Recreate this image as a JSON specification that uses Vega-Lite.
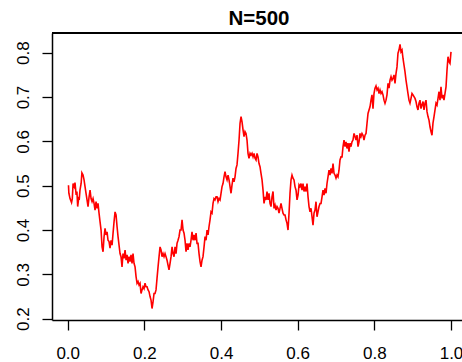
{
"$schema":"https://vega.github.io/schema/vega-lite/v6.json",
"width":410,"height":287,
"autosize":{"type":"none"},
"padding":{"left":52,"top":33,"right":0,"bottom":42},
"background":"white",
"config":{"view":{"stroke":null}},
"title":{"text":"N=500","font":"Liberation Sans","fontSize":20.5,"fontWeight":"bold","color":"black","anchor":"middle","frame":"group","baseline":"alphabetic","offset":9,"dx":2,"dy":22},
"data":{"values":[
{"x":0.002,"y":0.501},{"x":0.003,"y":0.483},{"x":0.006,"y":0.471},{"x":0.010,"y":0.462},{"x":0.012,"y":0.471},{"x":0.014,"y":0.505},{"x":0.017,"y":0.498},{"x":0.019,"y":0.507},{"x":0.022,"y":0.479},{"x":0.024,"y":0.487},{"x":0.026,"y":0.453},{"x":0.029,"y":0.475},{"x":0.030,"y":0.468},{"x":0.032,"y":0.490},{"x":0.035,"y":0.505},{"x":0.037,"y":0.529},
{"x":0.0400,"y":0.524},{"x":0.0426,"y":0.513},{"x":0.0452,"y":0.498},{"x":0.0478,"y":0.483},{"x":0.0504,"y":0.468},{"x":0.0530,"y":0.453},{"x":0.0557,"y":0.475},{"x":0.0583,"y":0.490},{"x":0.0609,"y":0.471},{"x":0.0635,"y":0.464},
{"x":0.0661,"y":0.471},{"x":0.0687,"y":0.460},{"x":0.0713,"y":0.445},{"x":0.0739,"y":0.464},{"x":0.0765,"y":0.449},{"x":0.0791,"y":0.460},{"x":0.0817,"y":0.438},{"x":0.0843,"y":0.419},{"x":0.0870,"y":0.400},{"x":0.0896,"y":0.362},
{"x":0.0922,"y":0.351},{"x":0.0948,"y":0.385},{"x":0.0974,"y":0.404},{"x":0.1000,"y":0.389},{"x":0.1026,"y":0.396},{"x":0.1052,"y":0.377},{"x":0.1078,"y":0.374},{"x":0.1104,"y":0.359},{"x":0.1130,"y":0.377},{"x":0.1157,"y":0.366},
{"x":0.1183,"y":0.393},{"x":0.1209,"y":0.419},{"x":0.1235,"y":0.441},{"x":0.1261,"y":0.434},{"x":0.1287,"y":0.408},{"x":0.1313,"y":0.385},{"x":0.1339,"y":0.366},{"x":0.1365,"y":0.347},{"x":0.1391,"y":0.340},{"x":0.1417,"y":0.317},
{"x":0.1443,"y":0.347},{"x":0.1470,"y":0.336},{"x":0.1496,"y":0.355},{"x":0.1522,"y":0.332},{"x":0.1548,"y":0.344},{"x":0.1574,"y":0.325},{"x":0.1600,"y":0.340},{"x":0.1626,"y":0.329},{"x":0.1652,"y":0.344},{"x":0.1678,"y":0.325},
{"x":0.1704,"y":0.347},{"x":0.1730,"y":0.325},{"x":0.1757,"y":0.317},{"x":0.1783,"y":0.295},{"x":0.1809,"y":0.280},{"x":0.1835,"y":0.284},{"x":0.1861,"y":0.276},{"x":0.1887,"y":0.280},{"x":0.1913,"y":0.257},{"x":0.1939,"y":0.265},
{"x":0.1965,"y":0.272},{"x":0.1991,"y":0.268},{"x":0.2017,"y":0.280},{"x":0.2043,"y":0.272},{"x":0.2070,"y":0.272},{"x":0.2096,"y":0.265},{"x":0.2122,"y":0.261},{"x":0.2148,"y":0.250},{"x":0.2174,"y":0.242},{"x":0.2200,"y":0.223},
{"x":0.2226,"y":0.238},{"x":0.2252,"y":0.257},{"x":0.2278,"y":0.257},{"x":0.2304,"y":0.265},{"x":0.2330,"y":0.291},{"x":0.2357,"y":0.317},{"x":0.2383,"y":0.340},{"x":0.2409,"y":0.362},{"x":0.2435,"y":0.355},{"x":0.2461,"y":0.340},
{"x":0.2487,"y":0.347},{"x":0.2513,"y":0.340},{"x":0.2539,"y":0.347},{"x":0.2565,"y":0.340},{"x":0.2591,"y":0.332},{"x":0.2617,"y":0.321},{"x":0.2643,"y":0.310},{"x":0.2670,"y":0.325},{"x":0.2696,"y":0.340},{"x":0.2722,"y":0.362},
{"x":0.2748,"y":0.347},{"x":0.2774,"y":0.340},{"x":0.2800,"y":0.362},{"x":0.2826,"y":0.347},{"x":0.2852,"y":0.370},{"x":0.2878,"y":0.377},{"x":0.2904,"y":0.385},{"x":0.2930,"y":0.400},{"x":0.2957,"y":0.400},{"x":0.2983,"y":0.423},
{"x":0.3009,"y":0.400},{"x":0.3035,"y":0.393},{"x":0.3061,"y":0.377},{"x":0.3087,"y":0.351},{"x":0.3113,"y":0.370},{"x":0.3139,"y":0.355},{"x":0.3165,"y":0.370},{"x":0.3191,"y":0.362},{"x":0.3217,"y":0.377},{"x":0.3243,"y":0.396},
{"x":0.3270,"y":0.377},{"x":0.3296,"y":0.389},{"x":0.3322,"y":0.377},{"x":0.3348,"y":0.393},{"x":0.3374,"y":0.370},{"x":0.3400,"y":0.370},{"x":0.3426,"y":0.347},{"x":0.3452,"y":0.329},{"x":0.3478,"y":0.317},{"x":0.3504,"y":0.332},
{"x":0.3530,"y":0.340},{"x":0.3557,"y":0.362},{"x":0.3583,"y":0.385},{"x":0.3609,"y":0.377},{"x":0.3635,"y":0.400},{"x":0.3661,"y":0.389},{"x":0.3687,"y":0.408},{"x":0.3713,"y":0.423},{"x":0.3739,"y":0.441},{"x":0.3765,"y":0.438},
{"x":0.3791,"y":0.460},{"x":0.3817,"y":0.471},{"x":0.3843,"y":0.468},{"x":0.3870,"y":0.475},{"x":0.3896,"y":0.475},{"x":0.3922,"y":0.464},{"x":0.3948,"y":0.471},{"x":0.3974,"y":0.468},{"x":0.4000,"y":0.483},{"x":0.4026,"y":0.498},
{"x":0.4052,"y":0.505},{"x":0.4078,"y":0.520},{"x":0.4104,"y":0.532},{"x":0.4130,"y":0.520},{"x":0.4157,"y":0.513},{"x":0.4183,"y":0.524},{"x":0.4209,"y":0.513},{"x":0.4235,"y":0.498},{"x":0.4261,"y":0.483},{"x":0.4287,"y":0.502},
{"x":0.4313,"y":0.517},{"x":0.4339,"y":0.509},{"x":0.4365,"y":0.520},{"x":0.4391,"y":0.539},{"x":0.4417,"y":0.547},{"x":0.4443,"y":0.573},{"x":0.4470,"y":0.603},{"x":0.4496,"y":0.641},{"x":0.4522,"y":0.656},{"x":0.4548,"y":0.644},
{"x":0.4574,"y":0.626},{"x":0.4600,"y":0.611},{"x":0.4626,"y":0.622},{"x":0.4652,"y":0.618},{"x":0.4678,"y":0.603},{"x":0.4704,"y":0.573},{"x":0.4730,"y":0.562},{"x":0.4757,"y":0.573},{"x":0.4783,"y":0.569},{"x":0.4809,"y":0.573},
{"x":0.4835,"y":0.565},{"x":0.4861,"y":0.573},{"x":0.4887,"y":0.562},{"x":0.4913,"y":0.558},{"x":0.4939,"y":0.573},{"x":0.4965,"y":0.565},{"x":0.4991,"y":0.550},{"x":0.5017,"y":0.543},{"x":0.5043,"y":0.528},{"x":0.5070,"y":0.513},
{"x":0.5096,"y":0.490},{"x":0.5122,"y":0.460},{"x":0.5148,"y":0.475},{"x":0.5174,"y":0.468},{"x":0.5200,"y":0.487},{"x":0.5226,"y":0.468},{"x":0.5252,"y":0.483},{"x":0.5278,"y":0.460},{"x":0.5304,"y":0.453},{"x":0.5330,"y":0.475},
{"x":0.5357,"y":0.487},{"x":0.5383,"y":0.449},{"x":0.5409,"y":0.456},{"x":0.5435,"y":0.445},{"x":0.5461,"y":0.453},{"x":0.5487,"y":0.449},{"x":0.5513,"y":0.438},{"x":0.5539,"y":0.449},{"x":0.5565,"y":0.460},{"x":0.5591,"y":0.449},
{"x":0.5617,"y":0.438},{"x":0.5643,"y":0.434},{"x":0.5670,"y":0.434},{"x":0.5696,"y":0.423},{"x":0.5722,"y":0.415},{"x":0.5748,"y":0.400},{"x":0.5774,"y":0.438},{"x":0.5800,"y":0.483},{"x":0.5826,"y":0.513},{"x":0.5852,"y":0.524},
{"x":0.5878,"y":0.517},{"x":0.5904,"y":0.513},{"x":0.5930,"y":0.498},{"x":0.5957,"y":0.490},{"x":0.5983,"y":0.468},{"x":0.6009,"y":0.479},{"x":0.6035,"y":0.502},{"x":0.6061,"y":0.498},{"x":0.6087,"y":0.505},{"x":0.6113,"y":0.490},
{"x":0.6139,"y":0.505},{"x":0.6165,"y":0.487},{"x":0.6191,"y":0.498},{"x":0.6217,"y":0.487},{"x":0.6243,"y":0.505},{"x":0.6270,"y":0.475},{"x":0.6296,"y":0.453},{"x":0.6322,"y":0.441},{"x":0.6348,"y":0.449},{"x":0.6374,"y":0.430},
{"x":0.6400,"y":0.411},{"x":0.6426,"y":0.438},{"x":0.6452,"y":0.445},{"x":0.6478,"y":0.464},{"x":0.6504,"y":0.430},{"x":0.6530,"y":0.441},{"x":0.6557,"y":0.453},{"x":0.6583,"y":0.460},{"x":0.6609,"y":0.460},{"x":0.6635,"y":0.475},
{"x":0.6661,"y":0.490},{"x":0.6687,"y":0.479},{"x":0.6713,"y":0.494},{"x":0.6739,"y":0.483},{"x":0.6765,"y":0.505},{"x":0.6791,"y":0.520},{"x":0.6817,"y":0.535},{"x":0.6843,"y":0.524},{"x":0.6870,"y":0.539},{"x":0.6896,"y":0.528},
{"x":0.6922,"y":0.550},{"x":0.6948,"y":0.528},{"x":0.6974,"y":0.524},{"x":0.7000,"y":0.517},{"x":0.7026,"y":0.524},{"x":0.7052,"y":0.520},{"x":0.7078,"y":0.535},{"x":0.7104,"y":0.558},{"x":0.7130,"y":0.565},{"x":0.7157,"y":0.565},
{"x":0.7183,"y":0.588},{"x":0.7209,"y":0.603},{"x":0.7235,"y":0.588},{"x":0.7261,"y":0.599},{"x":0.7287,"y":0.584},{"x":0.7313,"y":0.596},{"x":0.7339,"y":0.577},{"x":0.7365,"y":0.596},{"x":0.7391,"y":0.588},{"x":0.7417,"y":0.599},
{"x":0.7443,"y":0.603},{"x":0.7470,"y":0.618},{"x":0.7496,"y":0.611},{"x":0.7522,"y":0.603},{"x":0.7548,"y":0.614},{"x":0.7574,"y":0.588},{"x":0.7600,"y":0.599},{"x":0.7626,"y":0.618},{"x":0.7652,"y":0.611},{"x":0.7678,"y":0.618},
{"x":0.7704,"y":0.614},{"x":0.7730,"y":0.603},{"x":0.7757,"y":0.614},{"x":0.7783,"y":0.618},{"x":0.7809,"y":0.641},{"x":0.7835,"y":0.663},{"x":0.7861,"y":0.671},{"x":0.7887,"y":0.678},{"x":0.7913,"y":0.693},{"x":0.7939,"y":0.705},
{"x":0.7965,"y":0.674},{"x":0.7991,"y":0.708},{"x":0.8017,"y":0.720},{"x":0.8043,"y":0.725},{"x":0.8070,"y":0.716},{"x":0.8096,"y":0.720},{"x":0.8122,"y":0.708},{"x":0.8148,"y":0.716},{"x":0.8174,"y":0.708},{"x":0.8200,"y":0.712},
{"x":0.8226,"y":0.705},{"x":0.8252,"y":0.693},{"x":0.8278,"y":0.686},{"x":0.8304,"y":0.693},{"x":0.8330,"y":0.705},{"x":0.8357,"y":0.731},{"x":0.8383,"y":0.720},{"x":0.8409,"y":0.738},{"x":0.8435,"y":0.746},{"x":0.8461,"y":0.738},
{"x":0.8487,"y":0.742},{"x":0.8513,"y":0.750},{"x":0.8539,"y":0.731},{"x":0.8565,"y":0.753},{"x":0.8591,"y":0.768},{"x":0.8617,"y":0.799},{"x":0.8643,"y":0.806},{"x":0.8670,"y":0.819},{"x":0.8696,"y":0.802},{"x":0.8722,"y":0.806},
{"x":0.8748,"y":0.787},{"x":0.8774,"y":0.772},{"x":0.8800,"y":0.757},{"x":0.8826,"y":0.738},{"x":0.8852,"y":0.723},{"x":0.8878,"y":0.708},{"x":0.8904,"y":0.693},{"x":0.8930,"y":0.686},{"x":0.8957,"y":0.697},{"x":0.8983,"y":0.708},
{"x":0.9009,"y":0.705},{"x":0.9035,"y":0.701},{"x":0.9061,"y":0.697},{"x":0.9087,"y":0.690},{"x":0.9113,"y":0.678},{"x":0.9139,"y":0.671},{"x":0.9165,"y":0.686},{"x":0.9191,"y":0.693},{"x":0.9217,"y":0.674},{"x":0.9243,"y":0.682},
{"x":0.9270,"y":0.690},{"x":0.9296,"y":0.671},{"x":0.9322,"y":0.686},{"x":0.9348,"y":0.693},{"x":0.9374,"y":0.667},{"x":0.9400,"y":0.656},{"x":0.9426,"y":0.648},{"x":0.9452,"y":0.633},{"x":0.9478,"y":0.622},{"x":0.9504,"y":0.614},
{"x":0.9530,"y":0.641},{"x":0.9557,"y":0.656},{"x":0.9583,"y":0.671},{"x":0.9609,"y":0.686},{"x":0.9635,"y":0.682},{"x":0.9661,"y":0.697},{"x":0.9687,"y":0.712},{"x":0.9713,"y":0.693},{"x":0.9739,"y":0.723},{"x":0.9765,"y":0.697},
{"x":0.9791,"y":0.705},{"x":0.9817,"y":0.693},{"x":0.9843,"y":0.708},{"x":0.9870,"y":0.723},{"x":0.9896,"y":0.761},{"x":0.9922,"y":0.791},{"x":0.9948,"y":0.780},{"x":0.9974,"y":0.776},{"x":1.0000,"y":0.802}
]},
"layer":[
{"mark":{"type":"rule","color":"black","strokeWidth":1.5},
 "encoding":{"y":{"datum":0.8445,"type":"quantitative"}}},
{"mark":{"type":"line","color":"#FF0000","strokeWidth":1.6,"clip":true},
 "encoding":{
  "x":{"field":"x","type":"quantitative","scale":{"domain":[-0.041,1.0287],"nice":false,"zero":false},
   "axis":{"values":[0,0.2,0.4,0.6,0.8,1],"format":".1f","grid":false,"title":null,"tickSize":10,"tickWidth":1.3,"tickColor":"black","domainColor":"black","domainWidth":1.5,"labelFont":"Liberation Sans","labelFontSize":17,"labelColor":"black","labelPadding":28,"labelBaseline":"alphabetic","labelFlush":false,"labelOverlap":false}},
  "y":{"field":"y","type":"quantitative","scale":{"domain":[0.1971,0.8445],"nice":false,"zero":false},
   "axis":{"values":[0.2,0.3,0.4,0.5,0.6,0.7,0.8],"format":".1f","grid":false,"title":null,"tickSize":10,"tickWidth":1.3,"tickColor":"black","domainColor":"black","domainWidth":1.5,"labelFont":"Liberation Sans","labelFontSize":17,"labelColor":"black","labelAngle":-90,"labelAlign":"center","labelBaseline":"alphabetic","labelPadding":14,"labelFlush":false,"labelOverlap":false}}
 }}
]
}
